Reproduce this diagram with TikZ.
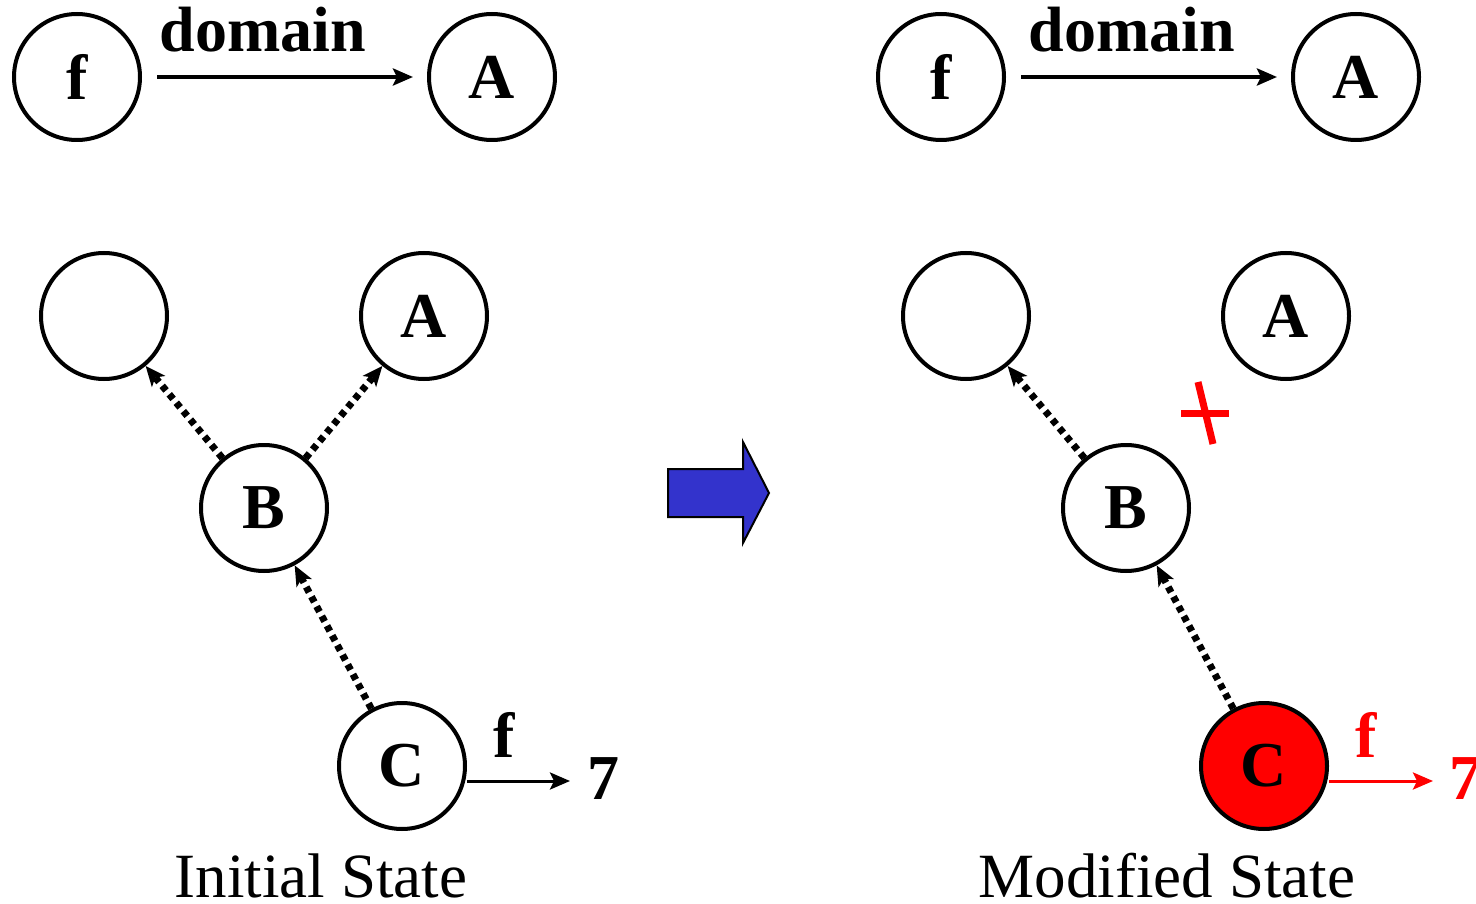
\documentclass[tikz,border=0pt]{standalone}
\usepackage{fontspec}
\setmainfont{Liberation Serif}
\usetikzlibrary{arrows.meta}
\definecolor{arrowblue}{RGB}{51,51,204}
\tikzset{
  st/.style={circle,draw=black,line width=4pt,minimum size=126pt,inner sep=0pt,
    font=\fontsize{64}{64}\selectfont\bfseries},
  lbl/.style={font=\fontsize{64}{64}\selectfont\bfseries,inner sep=0pt,anchor=base},
  captext/.style={font=\fontsize{63}{63}\selectfont,inner sep=0pt,anchor=base},
  solidarrow/.style={line width=4pt,-{Stealth[length=20pt,width=17pt,inset=4pt]}},
  dotarrow/.style={line width=7pt,dash pattern=on 6pt off 5pt,
    -{Stealth[length=20pt,width=17pt,inset=5pt]}},
}
\begin{document}
\begin{tikzpicture}[x=1pt,y=-1pt]
\useasboundingbox (0,0) rectangle (1476,904);
% ---------- left: initial state ----------
\node[st] (lf) at (77,77) {f};
\node[st] (lA) at (492,77) {A};
\coordinate (lds) at (157,77);
\coordinate (lde) at (413,77);
\draw[solidarrow] (lds) -- (lde);
\node[lbl] (ldom) at (263,52) {domain};
\node[st] (lE) at (104,316) {};
\node[st] (lA2) at (424,316) {A};
\node[st] (lB) at (264,508) {B};
\node[st] (lC) at (402,766) {C};
\draw[dotarrow] (lB) -- (lE);
\draw[dotarrow] (lB) -- (lA2);
\draw[dotarrow] (lC) -- (lB);
\coordinate (l7e) at (570,781);
\draw[solidarrow,line width=3pt] (lC.east |- l7e) -- (l7e);
\node[lbl] (lfl) at (504,757) {f};
\node[lbl] (l7) at (603,799) {7};
\node[captext] (lcap) at (321,897) {Initial State};
% ---------- middle arrow ----------
\draw[fill=arrowblue,draw=black,line width=2pt]
  (668,469) -- (743,469) -- (743,442) -- (769,493) -- (743,543) -- (743,517) -- (668,517) -- cycle;
% ---------- right: modified state ----------
\node[st] (rf) at (941,77) {f};
\node[st] (rA) at (1356,77) {A};
\coordinate (rds) at (1021,77);
\coordinate (rde) at (1277,77);
\draw[solidarrow] (rds) -- (rde);
\node[lbl] (rdom) at (1132,52) {domain};
\node[st] (rE) at (966,316) {};
\node[st] (rA2) at (1286,316) {A};
\node[st] (rB) at (1126,508) {B};
\node[st,fill=red] (rC) at (1264,766) {C};
\draw[dotarrow] (rB) -- (rE);
\draw[dotarrow] (rC) -- (rB);
\coordinate (r7e) at (1433,781);
\draw[solidarrow,line width=3pt,draw=red,fill=red] (rC.east |- r7e) -- (r7e);
\node[lbl,text=red] (rfl) at (1366,757) {f};
\node[lbl,text=red] (r7) at (1465,799) {7};
\node[captext] (rcap) at (1167,897) {Modified State};
% red cross
\draw[red,line width=7pt] (1181,413) -- (1229,413);
\draw[red,line width=7pt] (1198,382) -- (1213,444);
\end{tikzpicture}
\end{document}
